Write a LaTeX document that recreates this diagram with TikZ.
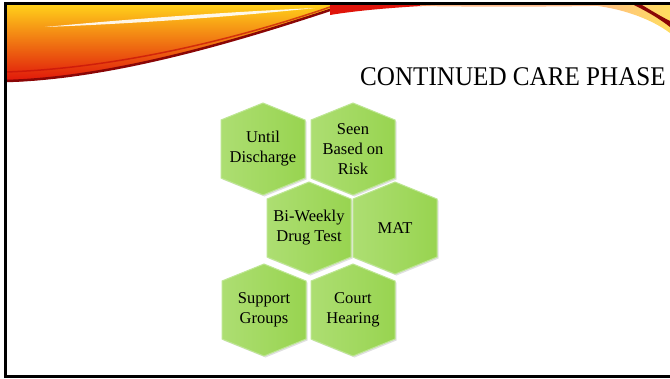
\documentclass[tikz,border=0pt]{standalone}
\usepackage{fontspec}
\setmainfont{Liberation Serif}
\usepackage{xcolor}
\usepackage{tikz}
\usetikzlibrary{positioning,calc}

\definecolor{hexlight}{HTML}{ADDE72}
\definecolor{hexdark}{HTML}{98D450}
\definecolor{hexedge}{HTML}{BDE692}
\definecolor{swyellow}{HTML}{FFCF1A}
\definecolor{sworange}{HTML}{FF7410}
\definecolor{swred}{HTML}{E0140A}
\definecolor{swdark}{HTML}{8A0606}

\begin{document}
\begin{tikzpicture}[x=1pt,y=-1pt,
  hexfill/.style={left color=hexlight,right color=hexdark,draw=hexedge,line width=1pt},
  hexshadow/.style={fill=black,opacity=0.12},
  hexlabel/.style={font=\fontsize{16.5}{20}\selectfont,text=black,align=center,inner sep=0pt}]
  \useasboundingbox (0,0) rectangle (670,378);
  \fill[white] (0,0) rectangle (670,378);

  % Banner swoosh across the top left corner
  \shade[top color=swyellow,middle color=sworange,bottom color=swred]
    (6,5) -- (345,5) .. controls (255,35) and (120,78) .. (6,82) -- cycle;
  \draw[swdark,line width=2.5pt] (345,5) .. controls (255,35) and (120,78) .. (6,81);
  \draw[swred!70!swdark,line width=1.5pt,opacity=0.7] (330,7) .. controls (240,38) and (120,68) .. (6,72);
  \fill[white,opacity=0.9] (45,27) .. controls (150,17) and (250,11) .. (315,8) .. controls (250,15) and (150,23) .. cycle;
  % thin band running on along the top edge
  \fill[swred] (330,5) -- (440,5) .. controls (400,7) and (360,10) .. (330,15) -- cycle;
  \fill[sworange!60,opacity=0.8] (420,5) -- (640,5) .. controls (560,7) and (480,7) .. (420,6) -- cycle;
  % swoosh at the top right corner
  \shade[left color=sworange!50,right color=swyellow!70]
    (590,5) -- (670,5) -- (670,33) .. controls (650,18) and (620,8) .. (590,5) -- cycle;
  \fill[swdark] (634,5) -- (642,5) .. controls (652,11) and (662,17) .. (670,21) -- (670,27) .. controls (660,19) and (648,12) .. (634,5) -- cycle;

  % Slide frame
  \draw[black,line width=3pt] (5.5,3) -- (5.5,378);
  \draw[black,line width=3pt] (4,3.5) -- (670,3.5);
  \draw[black,line width=3pt] (4,376.5) -- (670,376.5);

  % Title
  \node (title) [anchor=base west,inner sep=0pt,font=\fontsize{27}{30}\selectfont,text=black] at (360,85) {\scalebox{0.93}[1]{CONTINUED CARE PHASE}};

  % Honeycomb of hexagons
  \foreach \x/\y/\name/\txt in {263/149/until/{Until\\Discharge}, 353/149/seen/{Seen\\Based on\\Risk},
      309/228/biweekly/{Bi-Weekly\\Drug Test}, 395/228/mat/{MAT},
      264/310/support/{Support\\Groups}, 353/310/court/{Court\\Hearing}} {
    \fill[hexshadow] ({\x+1.5},{\y-44.5}) -- ({\x+43.5},{\y-27.5}) -- ({\x+43.5},{\y+30.5}) -- ({\x+1.5},{\y+47.5}) -- ({\x-40.5},{\y+30.5}) -- ({\x-40.5},{\y-27.5}) -- cycle;
    \shade[hexfill] (\x,{\y-46}) -- ({\x+42},{\y-29}) -- ({\x+42},{\y+29}) -- (\x,{\y+46}) -- ({\x-42},{\y+29}) -- ({\x-42},{\y-29}) -- cycle;
    \node (\name) [hexlabel] at (\x,\y) {\txt};
  }
\end{tikzpicture}
\end{document}
